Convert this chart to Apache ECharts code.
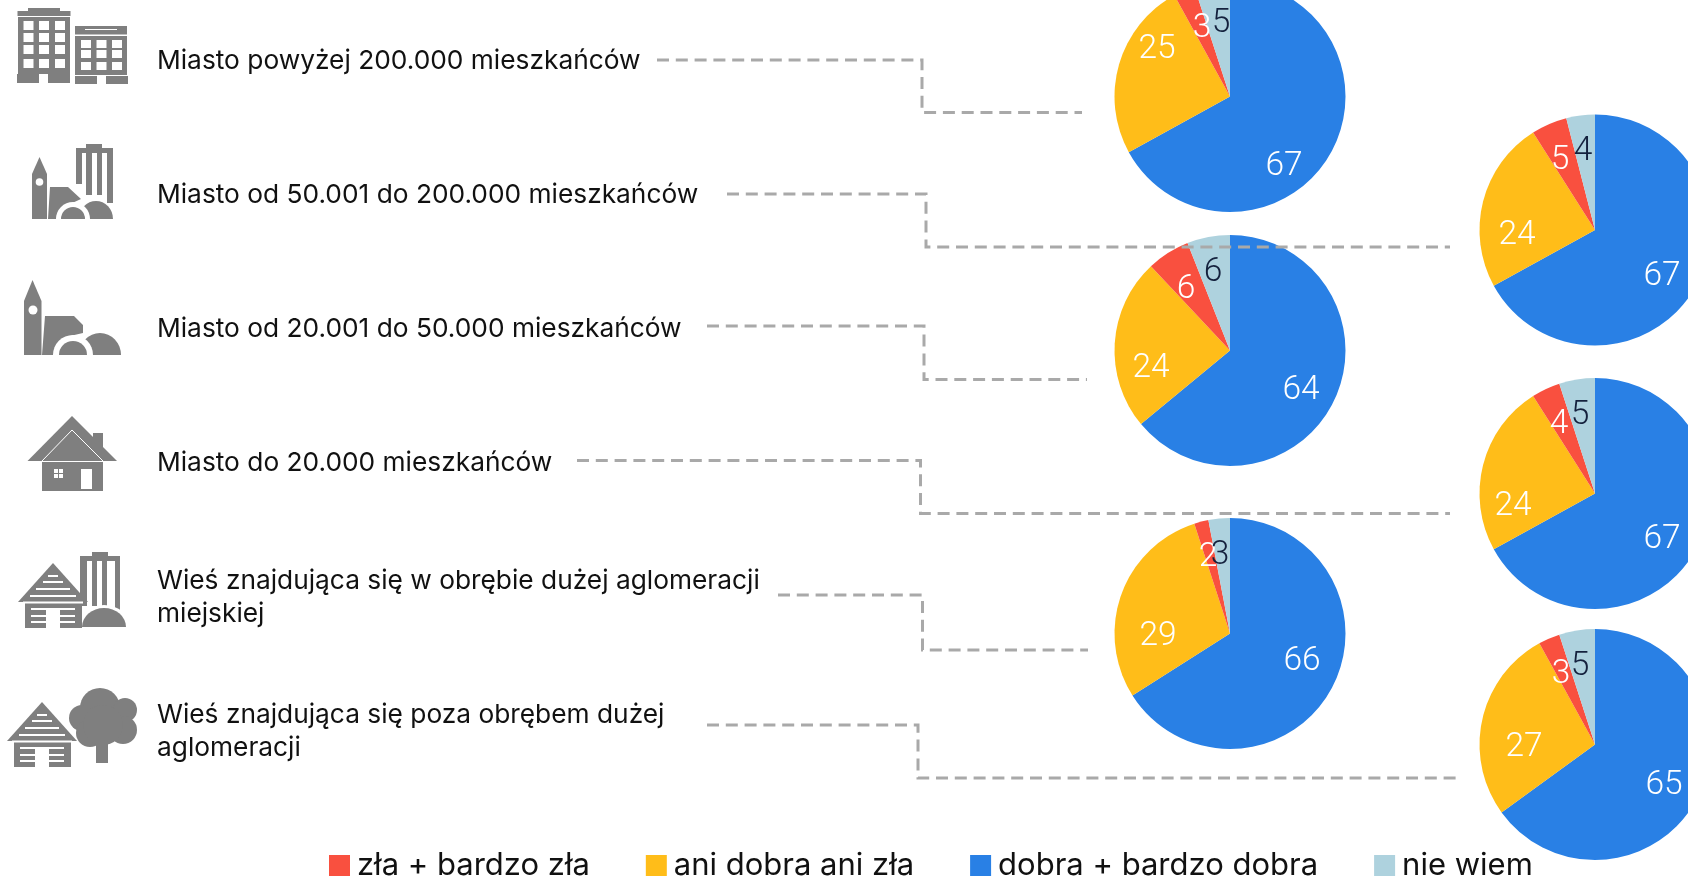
<!DOCTYPE html>
<html>
<head>
<meta charset="utf-8">
<title>Ocena</title>
<style>
html,body{margin:0;padding:0;background:#fff;}
#chart{width:1688px;height:877px;}
</style>
<script src="https://cdn.jsdelivr.net/npm/echarts@6/dist/echarts.min.js"></script>
</head>
<body>
<div id="chart"></div>
<script>
// dane
var categories = [
    'Miasto powyżej 200.000 mieszkańców',
    'Miasto od 50.001 do 200.000 mieszkańców',
    'Miasto od 20.001 do 50.000 mieszkańców',
    'Miasto do 20.000 mieszkańców',
    'Wieś znajdująca się w obrębie dużej aglomeracji\nmiejskiej',
    'Wieś znajdująca się poza obrębem dużej\naglomeracji'
];
var seriesNames = ['dobra + bardzo dobra', 'ani dobra ani zła', 'zła + bardzo zła', 'nie wiem'];
var legendOrder = ['zła + bardzo zła', 'ani dobra ani zła', 'dobra + bardzo dobra', 'nie wiem'];
var dobra = [67, 67, 64, 67, 66, 65];
var ani = [25, 24, 24, 24, 29, 27];
var zla = [3, 5, 6, 4, 2, 3];
var nieWiem = [5, 4, 6, 5, 3, 5];

// uklad
var colors = ['#2980e5', '#ffbd19', '#f9503f', '#aed2de'];
var labelColors = ['#fff', '#fff', '#fff', '#14213d'];
var pieCenters = [[1230, 96.5], [1595, 230], [1230, 350.5], [1595, 493.5], [1230, 633.5], [1595, 744.5]];
var labelSpots = [
    [[1284, 167], [1157, 50], [1202, 29], [1221, 24]],
    [[1662, 277], [1517, 236], [1560, 161], [1583, 152]],
    [[1301, 391], [1151, 369], [1186, 290], [1213, 273]],
    [[1662, 540], [1513, 507], [1559, 425], [1580, 416]],
    [[1302, 662], [1158, 637], [1208, 558], [1220, 556]],
    [[1664, 786], [1524, 748], [1561, 675], [1580, 667]]
];
var textY = [61, 195.5, 329, 463, 597.5, 732];
var leaders = [
    [[657, 60], [922, 60], [922, 112.5], [1082, 112.5]],
    [[727, 194], [926, 194], [926, 247], [1450, 247]],
    [[707, 326], [924, 326], [924, 379.5], [1087, 379.5]],
    [[577, 460.5], [920.5, 460.5], [920.5, 513.5], [1450, 513.5]],
    [[778, 595], [922.5, 595], [922.5, 650], [1088, 650]],
    [[707, 725], [918, 725], [918, 778], [1458, 778]]
];

var GRAY = '#7f7f7f';
var TEXT_FONT = 'Inter, "Noto Sans", sans-serif';

function rect(x, y, w, h, fill) {
    return {type: 'rect', z: 5, shape: {x: x, y: y, width: w, height: h}, style: {fill: fill || GRAY}};
}
function poly(points, fill) {
    return {type: 'polygon', z: 5, shape: {points: points}, style: {fill: fill || GRAY}};
}
function circle(cx, cy, r, fill) {
    return {type: 'circle', z: 5, shape: {cx: cx, cy: cy, r: r}, style: {fill: fill || GRAY}};
}
function dome(cx, y, rx, ry, fill) {//polkole na podstawie y
    return {
        type: 'sector', z: 5,
        shape: {cx: cx, cy: y, r: rx, r0: 0, startAngle: Math.PI, endAngle: Math.PI * 2},
        originX: cx, originY: y, scaleY: ry / rx,
        style: {fill: fill || GRAY}
    };
}
function stripedHouse(ax, ay) {//ax,ay = szczyt dachu
    var out = [
        poly([[ax, ay], [ax + 35, ay + 39], [ax - 35, ay + 39]]),
        rect(ax - 28, ay + 39, 57, 26),
        rect(ax - 7, ay + 45, 14, 20, '#fff')
    ];
    [[12, 5], [18, 10], [25, 17], [32, 23], [38.5, 30]].forEach(function (s) {
        out.push(rect(ax - s[1], ay + s[0], s[1] * 2, 2, '#fff'));
    });
    [45, 52, 58].forEach(function (y) {
        out.push(rect(ax - 22, ay + y, 15, 2, '#fff'));
        out.push(rect(ax + 7, ay + y, 15, 2, '#fff'));
    });
    return out;
}
function windows(xs, ys, w, h) {
    var out = [];
    ys.forEach(function (y) {
        xs.forEach(function (x) { out.push(rect(x, y, w, h, '#fff')); });
    });
    return out;
}

var icons = [].concat(
    // bloki
    [rect(28, 8, 32, 5), rect(17.5, 11, 53, 5), rect(18, 17, 52, 57), rect(17, 74, 22, 9), rect(48, 74, 22, 9)],
    windows([23.5, 39, 55], [21, 33, 45, 59], 10, 9),
    [rect(75, 26, 52, 9), rect(85, 29, 32, 1, '#fff'), rect(75, 34.5, 52, 1, '#fff'), rect(75, 36, 52, 39), rect(75, 76, 22, 8), rect(106, 76, 22, 8)],
    windows([81, 96.5, 112], [40, 50, 62], 10, 8),
    // kosciol + wiezowiec
    [rect(86, 144, 16, 6), rect(76, 148, 37, 5), rect(76, 148, 6, 36), rect(86, 148, 6, 47), rect(97, 148, 5, 47), rect(107, 148, 6, 55)],
    [poly([[39.5, 157], [47, 174], [47, 219], [32, 219], [32, 174]]), circle(39.5, 182, 3.8, '#fff')],
    [poly([[50, 187], [68, 187], [81, 199], [70, 204], [60, 212], [56, 219], [48, 219]])],
    [dome(96, 219, 21, 19, '#fff'), dome(96, 219, 17, 18), dome(73, 219, 17, 17, '#fff'), dome(73, 219, 12, 12)],
    // kosciol
    [poly([[32.5, 280], [41.5, 301], [41.5, 355], [24, 355], [24, 301]]), circle(33, 310, 4.5, '#fff')],
    [poly([[45, 316], [74, 316], [83, 325], [83, 333], [70, 336], [60, 345], [53, 355], [42, 355]])],
    [dome(100, 355, 21, 22), dome(73, 355, 20, 20, '#fff'), dome(73, 355, 14, 14)],
    // dom
    [poly([[72, 416], [117, 461], [27.5, 461]]), rect(93, 433, 10, 20), rect(42, 462, 61, 29), rect(81, 469, 11, 20, '#fff'), rect(54, 469, 9, 9, '#fff'), rect(58, 469, 1, 9), rect(54, 473, 9, 1)],
    [{type: 'polyline', z: 5, shape: {points: [[42, 461], [72, 430], [103, 461]]}, style: {stroke: '#fff', lineWidth: 1, fill: null}}],
    // wies + wiezowiec
    [rect(92, 552, 16, 6), rect(80, 556, 40, 5), rect(80, 556, 7, 50), rect(92, 556, 5, 50), rect(102, 556, 5, 50), rect(115, 556, 5, 56)],
    [dome(104, 627, 26, 22, '#fff'), dome(104, 627, 22, 19)],
    stripedHouse(53, 563),
    // wies + drzewo
    [circle(100, 708, 20), circle(125, 710, 12), circle(82, 718, 13), circle(123, 730, 14), circle(90, 733, 14), circle(103, 725, 20), rect(96, 740, 12, 23)],
    stripedHouse(42, 702)
);

var labels = categories.map(function (c, i) {
    return {
        type: 'text', z: 6, x: 157, y: textY[i],
        style: {text: c, font: '400 26.3px ' + TEXT_FONT, fill: '#111', verticalAlign: 'middle', lineHeight: 33}
    };
});

var lines = leaders.map(function (pts) {
    return {
        type: 'polyline', z: 30, shape: {points: pts},
        style: {stroke: '#a9a9a9', lineWidth: 3, fill: null, lineDash: [12, 6.8]}
    };
});

var series = categories.map(function (c, i) {
    var values = [dobra[i], ani[i], zla[i], nieWiem[i]];
    return {
        type: 'pie',
        name: c,
        center: pieCenters[i],
        radius: 115.5,
        startAngle: 90,
        clockwise: true,
        animation: false,
        silent: true,
        z: 2,
        labelLine: {show: false},
        label: {show: true, position: 'inside', formatter: '{c}', fontFamily: 'Roboto', fontWeight: 300, fontSize: 33.5},
        labelLayout: function (params) {
            var spot = labelSpots[i][params.dataIndex];
            return {x: spot[0], y: spot[1], align: 'center', verticalAlign: 'middle'};
        },
        data: values.map(function (v, k) {
            return {
                name: seriesNames[k],
                value: v,
                itemStyle: {color: colors[k]},
                label: {color: labelColors[k]}
            };
        })
    };
});

var chart = echarts.init(document.getElementById('chart'), null, {renderer: 'canvas'});
chart.setOption({
    backgroundColor: '#fff',
    animation: false,
    legend: {
        data: legendOrder,
        left: 329,
        top: 850,
        padding: 0,
        icon: 'rect',
        itemWidth: 21,
        itemHeight: 21,
        itemGap: 56,
        selectedMode: false,
        textStyle: {fontFamily: TEXT_FONT, fontSize: 31, color: '#111', padding: [0, 0, 0, 2]}
    },
    series: series,
    graphic: {elements: icons.concat(labels, lines)}
});
</script>
</body>
</html>
